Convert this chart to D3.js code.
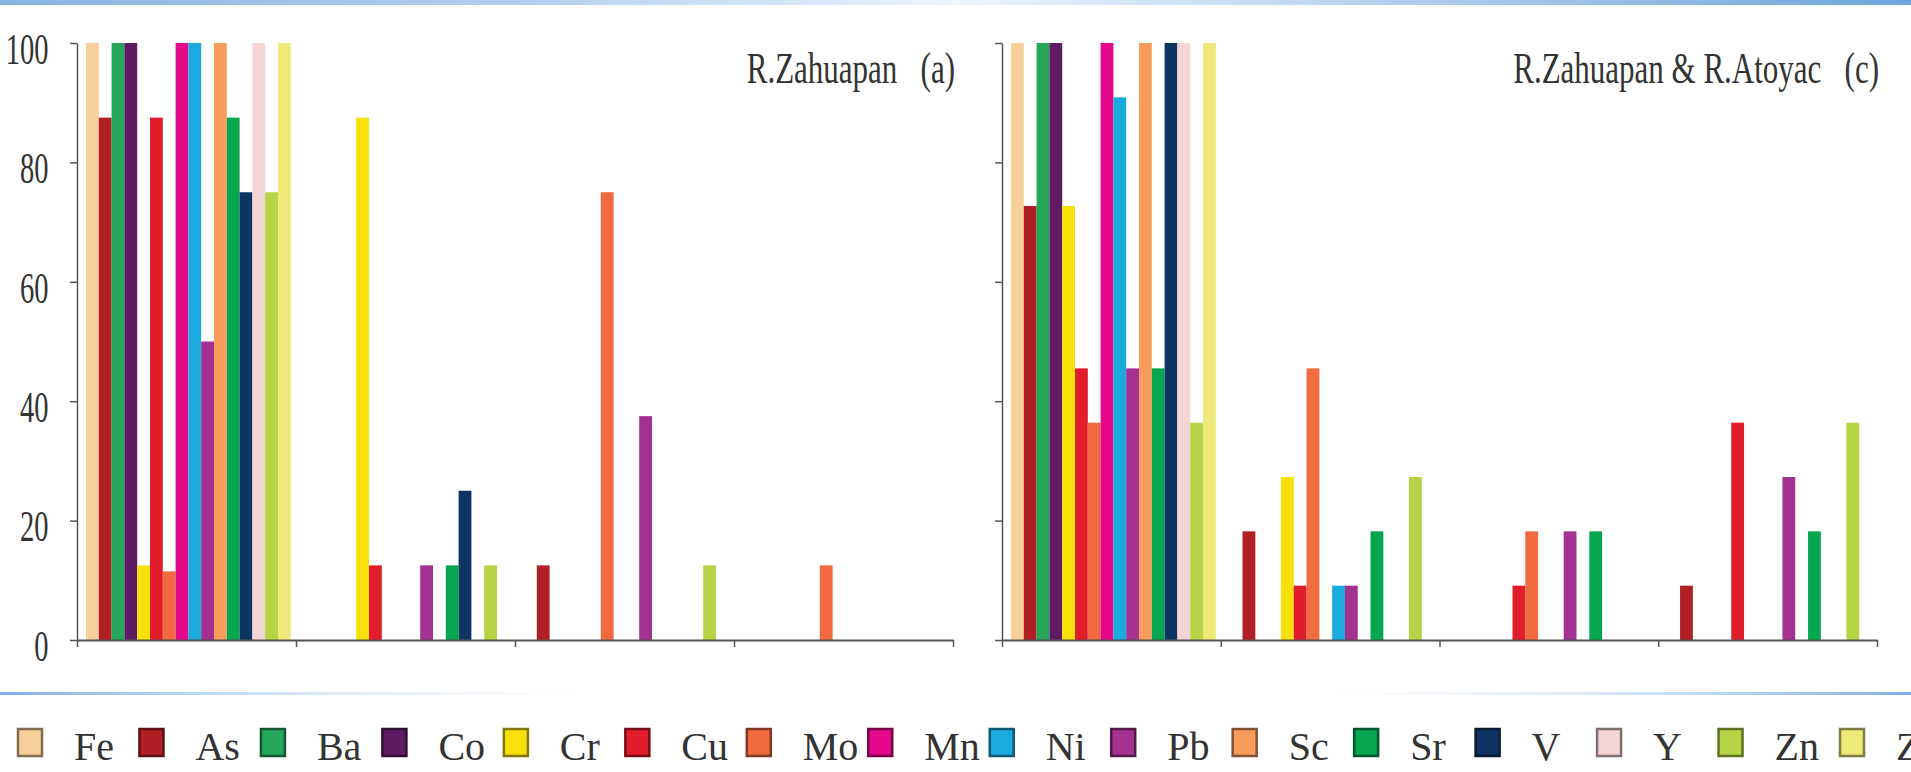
<!DOCTYPE html>
<html>
<head>
<meta charset="utf-8">
<script src="https://cdn.jsdelivr.net/npm/d3@7"></script>
<style>
  body { margin: 0; background: #fff; overflow: hidden; }
  text { font-family: "Liberation Serif", "Times New Roman", serif; fill: #333; }
  .title { white-space: pre; }
</style>
</head>
<body>
<svg id="main" width="1911" height="772"></svg>
<script>
const metals = ['Fe', 'As', 'Ba', 'Co', 'Cr', 'Cu', 'Mo', 'Mn', 'Ni', 'Pb', 'Sc', 'Sr', 'V', 'Y', 'Zn', 'Zr'];
const metalColors = ['#f7cf98', '#b01f24', '#26a65b', '#5e1b62', '#f8e10b', '#e21d2b', '#f26a3f', '#e4088b',
                     '#1aaade', '#a2318f', '#f89c5e', '#06a54f', '#0e3561', '#f4d5d6', '#b6d446', '#efe97a'];
const groups = ['g1', 'g2', 'g3', 'g4'];
const yTicks = [0, 20, 40, 60, 80, 100];

// percent per group, metals in the order above
const zahuapan = [
  [100, 87.5, 100, 100, 12.5, 87.5, 11.5, 100, 100, 50, 100, 87.5, 75, 100, 75, 100],
  [0, 0, 0, 0, 87.5, 12.5, 0, 0, 0, 12.5, 0, 12.5, 25, 0, 12.5, 0],
  [0, 12.5, 0, 0, 0, 0, 75, 0, 0, 37.5, 0, 0, 0, 0, 12.5, 0],
  [0, 0, 0, 0, 0, 0, 12.5, 0, 0, 0, 0, 0, 0, 0, 0, 0]
];
const atoyac = [
  [100, 72.7, 100, 100, 72.7, 45.5, 36.4, 100, 90.9, 45.5, 100, 45.5, 100, 100, 36.4, 100],
  [0, 18.2, 0, 0, 27.3, 9.1, 45.5, 0, 9.1, 9.1, 0, 18.2, 0, 0, 27.3, 0],
  [0, 0, 0, 0, 0, 9.1, 18.2, 0, 0, 18.2, 0, 18.2, 0, 0, 0, 0],
  [0, 9.1, 0, 0, 0, 36.4, 0, 0, 0, 27.3, 0, 18.2, 0, 0, 36.4, 0]
];

const svg = d3.select('#main');
const color = d3.scaleOrdinal().domain(metals).range(metalColors);

// blue page rules
const defs = svg.append('defs');
function gradient(id, stops) {
  const lg = defs.append('linearGradient').attr('id', id);
  stops.forEach(([o, c, a]) => lg.append('stop')
      .attr('offset', o).attr('stop-color', c).attr('stop-opacity', a));
}
gradient('topRule', [[0, '#86b3e2', 1], [0.3, '#b9d3ef', 1], [0.5, '#eef4fb', 1], [1, '#6ea5dc', 1]]);
gradient('midRule', [[0, '#7fb0e0', 1], [0.3, '#cfe0f3', 0], [0.7, '#cfe0f3', 0], [1, '#7fb0e0', 1]]);

svg.append('rect').attr('x', 0).attr('y', 0).attr('width', 1911).attr('height', 5).attr('fill', 'url(#topRule)');
svg.append('rect').attr('x', 0).attr('y', 692).attr('width', 1911).attr('height', 3).attr('fill', 'url(#midRule)');

drawPanel(zahuapan, 77, 953, 'R.Zahuapan   (a)', true);
drawPanel(atoyac, 1002, 1877, 'R.Zahuapan & R.Atoyac   (c)', false);
drawLegend();


function drawPanel(values, x0, x1, title, showLabels) {
  const g = svg.append('g');

  const x = d3.scaleBand().domain(groups).range([x0, x1]);
  const xm = d3.scaleBand().domain(metals).range([9, 9 + 16 * 12.8]);
  const y = d3.scaleLinear().domain([0, 100]).range([640, 43]);
  const bounds = d3.scaleLinear().domain([0, 4]).range([x0, x1]);

  const rows = groups.flatMap((grp, i) =>
    metals.map((m, j) => ({grp, metal: m, value: values[i][j]})))
    .filter(d => d.value > 0);

  g.append('g')
    .selectAll('rect')
    .data(rows)
    .join('rect')
      .attr('x', d => x(d.grp) + xm(d.metal))
      .attr('width', xm.bandwidth())
      .attr('y', d => y(d.value))
      .attr('height', d => y(0) - y(d.value))
      .attr('fill', d => color(d.metal));

  const yAxis = g.append('g')
    .attr('transform', `translate(${x0},0)`)
    .call(d3.axisLeft(y)
      .tickValues(yTicks)
      .tickSize(7)
      .tickSizeOuter(0)
      .tickPadding(23)
      .tickFormat(showLabels ? d3.format('d') : () => ''));
  yAxis.select('.domain').attr('stroke', '#555').attr('stroke-width', 1.5);
  yAxis.selectAll('.tick line').attr('stroke', '#555').attr('stroke-width', 1.5);
  yAxis.selectAll('.tick text')
    .attr('font-size', 30)
    .attr('font-family', '"Liberation Serif", serif')
    .attr('fill', '#333')
    .attr('dy', '0.45em')
    .attr('transform', 'scale(0.95,1.5)');

  const xAxis = g.append('g')
    .attr('transform', `translate(0,${y(0)})`)
    .call(d3.axisBottom(bounds)
      .tickValues(d3.range(5))
      .tickSize(7)
      .tickSizeOuter(0)
      .tickFormat(() => ''));
  xAxis.select('.domain').attr('stroke', '#555').attr('stroke-width', 2);
  xAxis.selectAll('.tick line').attr('stroke', '#555').attr('stroke-width', 1.5);

  g.append('text')
    .attr('class', 'title')
    .attr('transform', `translate(${x1 + 2},83) scale(1,1.4)`)
    .attr('text-anchor', 'end')
    .attr('font-size', 31)
    .text(title);
}


function drawLegend() {
  const lx = d3.scalePoint().domain(metals).range([30, 1852]);

  const items = svg.append('g')
    .selectAll('g')
    .data(metals)
    .join('g')
      .attr('transform', d => `translate(${lx(d)},0)`);

  items.append('rect')
    .attr('x', -12)
    .attr('y', 729)
    .attr('width', 24)
    .attr('height', 27)
    .attr('fill', d => color(d))
    .attr('stroke', d => d3.color(color(d)).darker(1.8))
    .attr('stroke-width', 2.5);

  items.append('text')
    .attr('x', 44)
    .attr('y', 760)
    .attr('font-size', 40)
    .text(d => d);
}
</script>
</body>
</html>
